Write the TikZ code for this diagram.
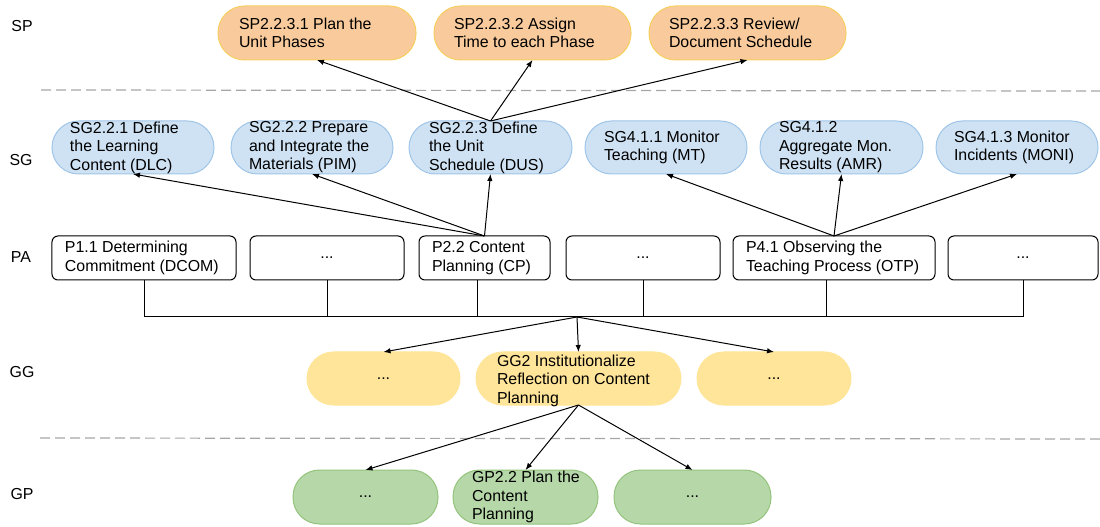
\documentclass[tikz,border=0pt]{standalone}
\usepackage{fontspec}
\setmainfont{Liberation Sans}
\usetikzlibrary{arrows.meta,calc}
\definecolor{spfill}{HTML}{F9CB9C}
\definecolor{spdraw}{HTML}{F6CF5E}
\definecolor{sgfill}{HTML}{CFE2F3}
\definecolor{sgdraw}{HTML}{9FC5E8}
\definecolor{ggfill}{HTML}{FFE599}
\definecolor{gpfill}{HTML}{B6D7A8}
\definecolor{gpdraw}{HTML}{93C47D}
\definecolor{dashgray}{HTML}{A6A6A6}
\begin{document}
\begin{tikzpicture}[x=1bp,y=-1bp,
  every node/.style={font=\fontsize{15.9bp}{18.5bp}\selectfont, inner sep=0pt, outer sep=0pt},
  pill/.style={line width=1bp, rounded corners=26.5bp},
  spbox/.style={pill, draw=spdraw, fill=spfill, minimum height=54bp},
  sgbox/.style={pill, draw=sgdraw, fill=sgfill, minimum height=53bp},
  ggbox/.style={pill, draw=ggfill, fill=ggfill, minimum height=53bp},
  gpbox/.style={pill, draw=gpdraw, fill=gpfill, minimum height=54bp},
  pabox/.style={draw=black, line width=1bp, rounded corners=6bp, fill=white, minimum height=44bp},
  txt/.style={anchor=west, align=left},
  lbl/.style={},
  arr/.style={-{Latex[length=7bp,width=5.5bp]}, line width=1bp},
  bus/.style={line width=1bp},
  sep/.style={draw=dashgray, line width=1.2bp, dash pattern=on 10bp off 5bp}
]
\useasboundingbox (0,0) rectangle (1100,527);

% layer labels
\node[lbl] (lsp) at (22,26) {SP};
\node[lbl] (lsg) at (21,160) {SG};
\node[lbl] (lpa) at (21,257) {PA};
\node[lbl] (lgg) at (22,372) {GG};
\node[lbl] (lgp) at (22,494) {GP};

% separators
\draw[sep] (41,90) -- (1100,91);
\draw[sep] (40,438) -- (1100,439);

% SP
\node[spbox, minimum width=198bp] (sp1) at (317,33) {};
\node[txt] (sp1t) at ($(sp1.west)+(21,0)$) {SP2.2.3.1 Plan the\\Unit Phases};
\node[spbox, minimum width=197bp] (sp2) at (532.5,33) {};
\node[txt] (sp2t) at ($(sp2.west)+(20,0)$) {SP2.2.3.2 Assign\\Time to each Phase};
\node[spbox, minimum width=197bp] (sp3) at (747.5,33) {};
\node[txt] (sp3t) at ($(sp3.west)+(20,0)$) {SP2.2.3.3 Review/\\Document Schedule};

% SG
\node[sgbox, minimum width=162bp] (sg1) at (133,147.5) {};
\node[txt] (sg1t) at ($(sg1.west)+(18,0)$) {SG2.2.1 Define\\the Learning\\Content (DLC)};
\node[sgbox, minimum width=162bp] (sg2) at (312,147.5) {};
\node[txt] (sg2t) at ($(sg2.west)+(18,0)$) {SG2.2.2 Prepare\\and Integrate the\\Materials (PIM)};
\node[sgbox, minimum width=163bp] (sg3) at (490.5,147.5) {};
\node[txt] (sg3t) at ($(sg3.west)+(20,0)$) {SG2.2.3 Define\\the Unit\\Schedule (DUS)};
\node[sgbox, minimum width=162bp] (sg4) at (666,147.5) {};
\node[txt] (sg4t) at ($(sg4.west)+(19,0)$) {SG4.1.1 Monitor\\Teaching (MT)};
\node[sgbox, minimum width=163bp] (sg5) at (841.5,147.5) {};
\node[txt] (sg5t) at ($(sg5.west)+(19,0)$) {SG4.1.2\\Aggregate Mon.\\Results (AMR)};
\node[sgbox, minimum width=162bp] (sg6) at (1017,147.5) {};
\node[txt] (sg6t) at ($(sg6.west)+(18,0)$) {SG4.1.3 Monitor\\Incidents (MONI)};

% PA
\node[pabox, minimum width=184bp] (p1) at (144,258) {};
\node[txt] (p1t) at ($(p1.west)+(13,0)$) {P1.1 Determining\\Commitment (DCOM)};
\node[pabox, minimum width=154bp] (p2) at (327,258) {...};
\node[pabox, minimum width=131bp] (p3) at (484.5,258) {};
\node[txt] (p3t) at ($(p3.west)+(13,0)$) {P2.2 Content\\Planning (CP)};
\node[pabox, minimum width=154bp] (p4) at (643,258) {...};
\node[pabox, minimum width=202bp] (p5) at (834,258) {};
\node[txt] (p5t) at ($(p5.west)+(13,0)$) {P4.1 Observing the\\Teaching Process (OTP)};
\node[pabox, minimum width=150bp] (p6) at (1023,258) {...};

% GG
\node[ggbox, minimum width=153bp] (gg1) at (383.5,378.5) {...};
\node[ggbox, minimum width=205bp] (gg2) at (578.5,378.5) {};
\node[txt] (gg2t) at ($(gg2.west)+(21,2)$) {GG2 Institutionalize\\Reflection on Content\\Planning};
\node[ggbox, minimum width=154bp] (gg3) at (774,378.5) {...};

% GP
\node[gpbox, minimum width=145bp] (gp1) at (365.5,497) {...};
\node[gpbox, minimum width=145bp] (gp2) at (525.5,497) {};
\node[txt] (gp2t) at ($(gp2.west)+(19,0)$) {GP2.2 Plan the\\Content\\Planning};
\node[gpbox, minimum width=157bp] (gp3) at (692.5,497) {...};

% SG -> SP
\draw[arr] (sg3.north) -- (sp1.south);
\draw[arr] (sg3.north) -- (sp2.south);
\draw[arr] (sg3.north) -- (sp3.south);

% PA -> SG
\draw[arr] (p3.north) -- (sg1.south);
\draw[arr] (p3.north) -- (sg2.south);
\draw[arr] (p3.north) -- (sg3.south);
\draw[arr] (p5.north) -- (sg4.south);
\draw[arr] (p5.north) -- (sg5.south);
\draw[arr] (p5.north) -- (sg6.south);

% bus
\coordinate (split) at (577,317);
\coordinate (p3b) at ($(p3.south)+(-7.5,0)$);
\coordinate (p5b) at ($(p5.south)+(-8,0)$);
\draw[bus] (p1.south) -- (p1.south |- split);
\draw[bus] (p2.south) -- (p2.south |- split);
\draw[bus] (p3b) -- (p3b |- split);
\draw[bus] (p4.south) -- (p4.south |- split);
\draw[bus] (p5b) -- (p5b |- split);
\draw[bus] (p6.south) -- (p6.south |- split);
\draw[bus] (p1.south |- split) -- (p6.south |- split);

% bus -> GG
\draw[arr] (split) -- (gg1.north);
\draw[arr] (split) -- (gg2.north);
\draw[arr] (split) -- (gg3.north);

% GG -> GP
\draw[arr] (gg2.south) -- (gp1.north);
\draw[arr] (gg2.south) -- (gp2.north);
\draw[arr] (gg2.south) -- (gp3.north);
\end{tikzpicture}
\end{document}
